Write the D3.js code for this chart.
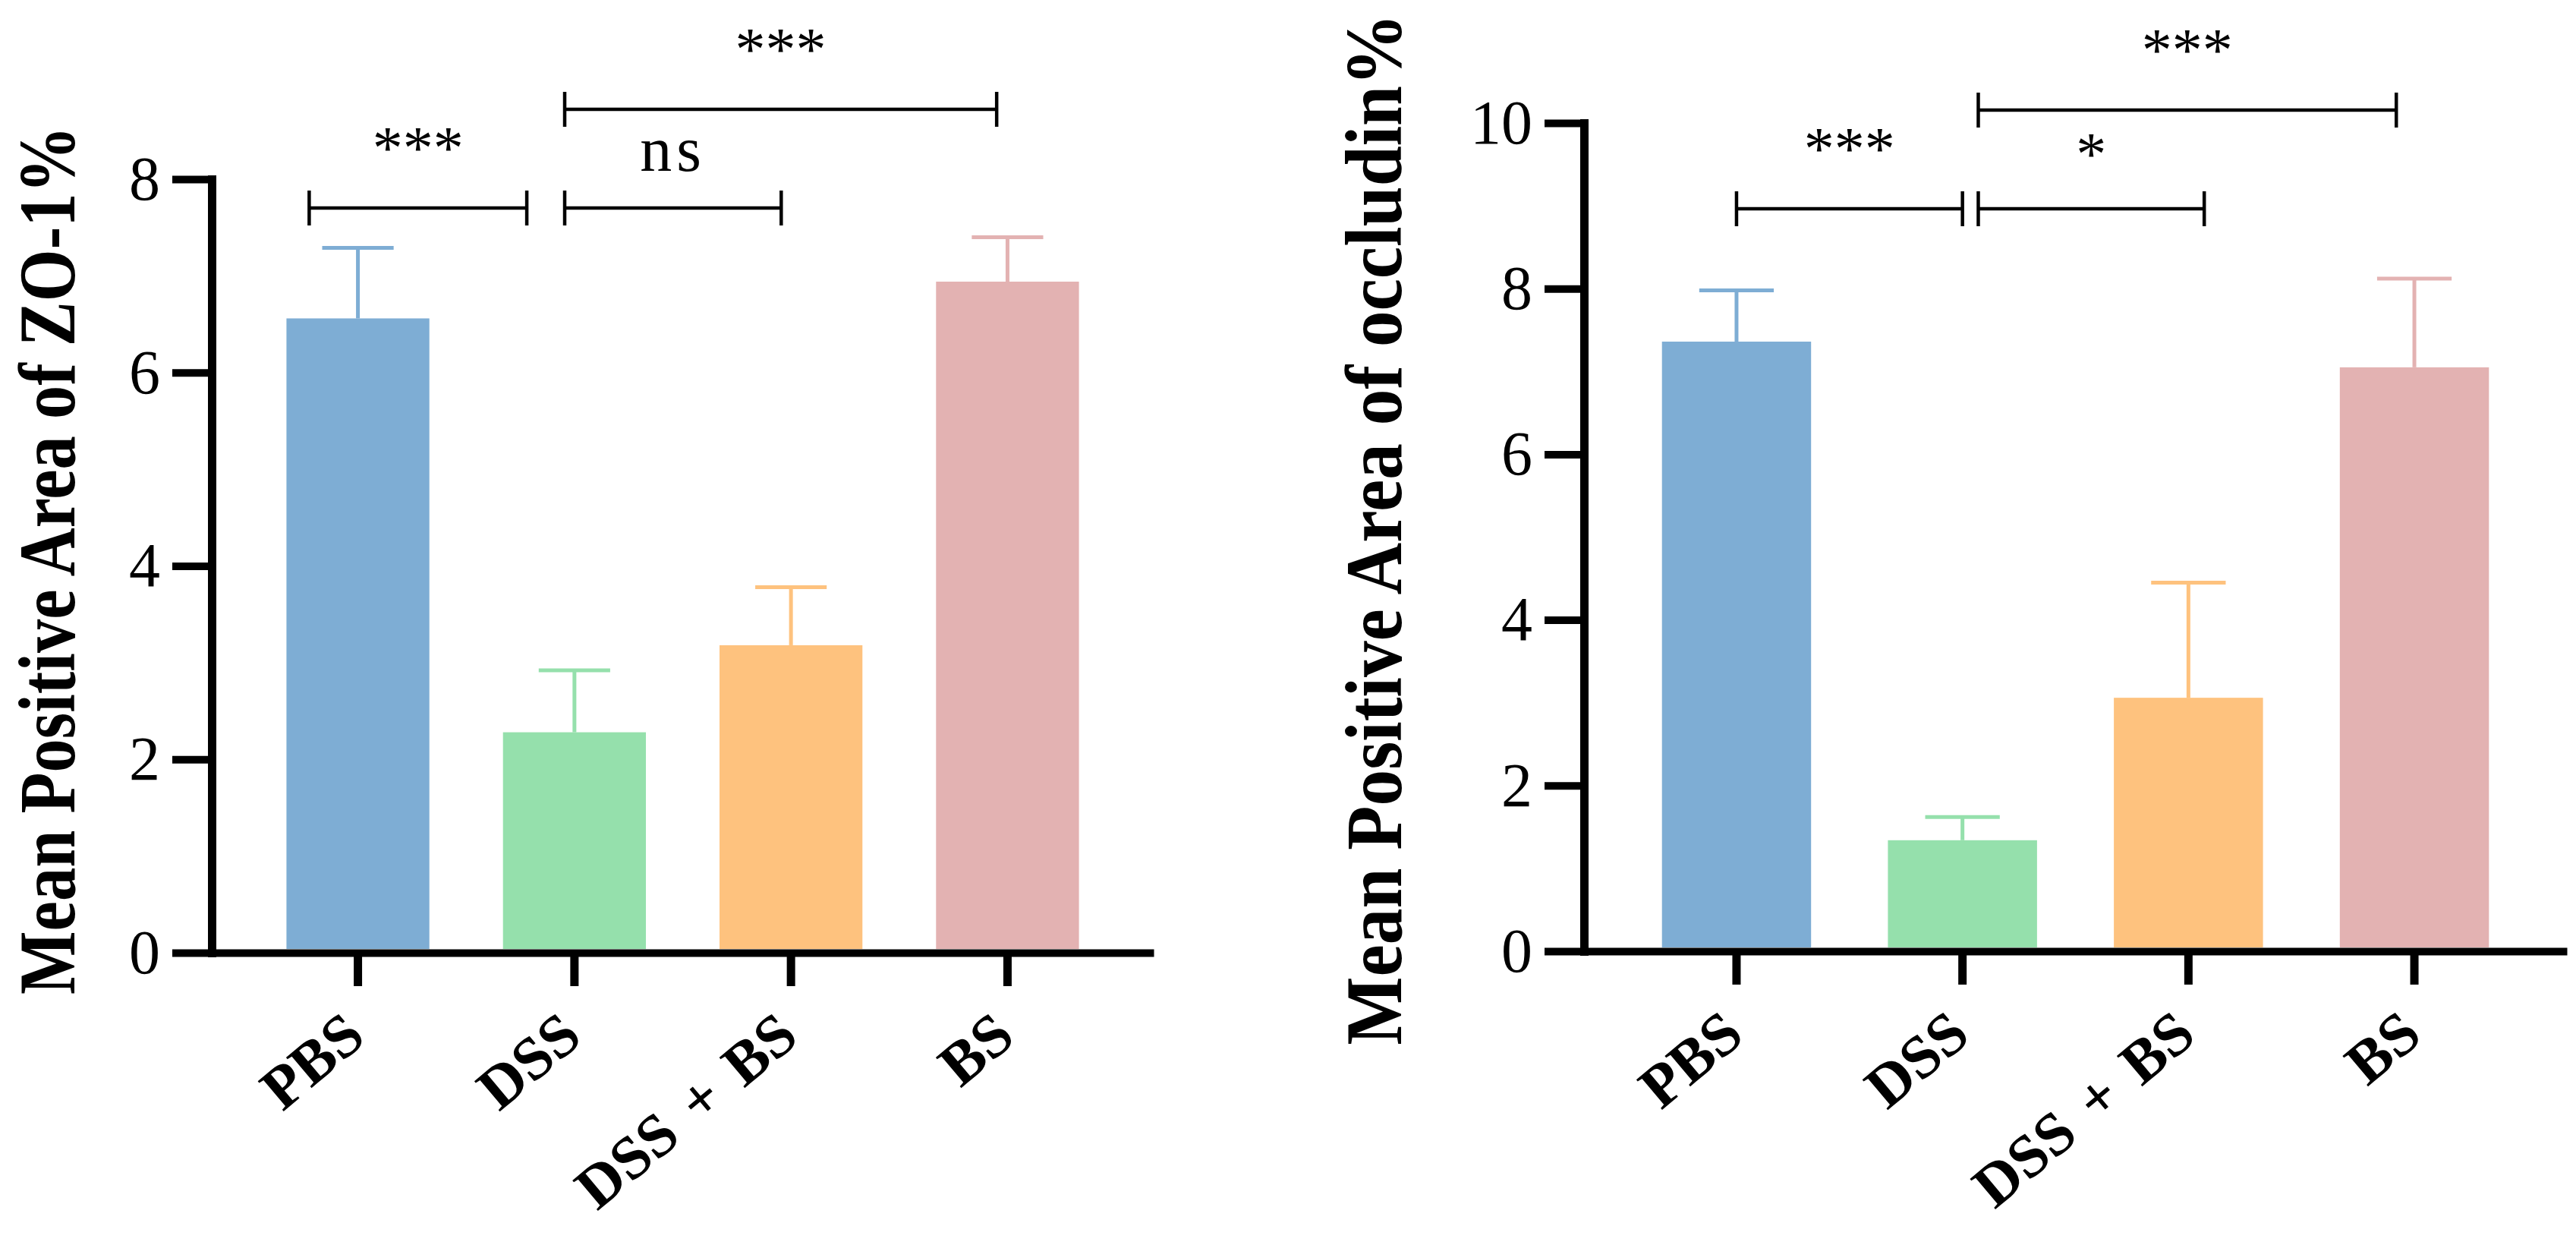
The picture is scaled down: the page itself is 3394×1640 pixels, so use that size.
<!DOCTYPE html>
<html>
<head>
<meta charset="utf-8">
<script src="https://cdn.jsdelivr.net/npm/d3@7"></script>
<style>
  html, body { margin: 0; padding: 0; background: #ffffff; }
  svg { display: block; }
</style>
</head>
<body>
<svg id="chart" width="3394" height="1640"></svg>
<script>
// ---------------- data ----------------
const categories = ["PBS", "DSS", "DSS + BS", "BS"];
const barColors = ["#7eadd4", "#95e0ac", "#fec27e", "#e3b2b2"];

const zoTitle = "Mean Positive Area of ZO-1%";
const zoMeans = [6.56, 2.28, 3.18, 6.94];
const zoErrors = [0.73, 0.64, 0.60, 0.46];
const zoTicks = [0, 2, 4, 6, 8];
const zoComparisons = [
  { from: "PBS", to: "DSS", label: "***", level: 0 },
  { from: "DSS", to: "DSS + BS", label: "ns", level: 0 },
  { from: "DSS", to: "BS", label: "***", level: 1 }
];

const occTitle = "Mean Positive Area of occludin%";
const occMeans = [7.36, 1.34, 3.06, 7.05];
const occErrors = [0.62, 0.28, 1.39, 1.07];
const occTicks = [0, 2, 4, 6, 8, 10];
const occComparisons = [
  { from: "PBS", to: "DSS", label: "***", level: 0 },
  { from: "DSS", to: "DSS + BS", label: "*", level: 0 },
  { from: "DSS", to: "BS", label: "***", level: 1 }
];

// ---------------- layout ----------------
const FONT = "'Liberation Serif', 'Times New Roman', serif";
const panels = [
  {
    title: zoTitle, means: zoMeans, errors: zoErrors, ticks: zoTicks, comps: zoComparisons,
    axisX: 279, axisEnd: 1520, y0: 1255, yTop: 236,
    titleX: 98, titleCenter: 738, titleLen: 1144,
    levelY: [274, 144],
    offsets: [[-0.225, -0.22], [-0.045, -0.045], [-0.045, -0.05]]
  },
  {
    title: occTitle, means: occMeans, errors: occErrors, ticks: occTicks, comps: occComparisons,
    axisX: 2087, axisEnd: 3382, y0: 1253, yTop: 162,
    titleX: 1846, titleCenter: 697, titleLen: 1359,
    levelY: [275, 145],
    offsets: [[0, 0], [0.07, 0.07], [0.07, -0.08]]
  }
];

const svg = d3.select("#chart");
svg.append("rect").attr("width", 3394).attr("height", 1640).attr("fill", "#fff");

panels.forEach(p => {
  const g = svg.append("g");
  const yMax = d3.max(p.ticks);
  const y = d3.scaleLinear().domain([0, yMax]).range([p.y0, p.yTop]);
  const x = d3.scaleBand().domain(categories).range([p.axisX, p.axisEnd])
    .paddingInner(0.34).paddingOuter(0.345);
  const bw = x.bandwidth();
  const step = x.step();
  const cx = c => x(c) + bw / 2;

  // bars
  g.selectAll("rect.bar").data(categories).join("rect")
    .attr("class", "bar")
    .attr("x", d => x(d))
    .attr("width", bw)
    .attr("y", (d, i) => y(p.means[i]))
    .attr("height", (d, i) => (y(0) - 5) - y(p.means[i]))
    .attr("fill", (d, i) => barColors[i]);

  // error bars (upper only)
  const eb = g.selectAll("g.err").data(categories).join("g").attr("class", "err");
  eb.append("line")
    .attr("x1", d => cx(d)).attr("x2", d => cx(d))
    .attr("y1", (d, i) => y(p.means[i]))
    .attr("y2", (d, i) => y(p.means[i] + p.errors[i]))
    .attr("stroke", (d, i) => barColors[i]).attr("stroke-width", 5);
  eb.append("line")
    .attr("x1", d => cx(d) - bw * 0.25).attr("x2", d => cx(d) + bw * 0.25)
    .attr("y1", (d, i) => y(p.means[i] + p.errors[i]))
    .attr("y2", (d, i) => y(p.means[i] + p.errors[i]))
    .attr("stroke", (d, i) => barColors[i]).attr("stroke-width", 5);

  // y axis
  const yAxis = d3.axisLeft(y).tickValues(p.ticks).tickSize(52).tickSizeOuter(0)
    .tickPadding(16).tickFormat(d3.format("d"));
  const ya = g.append("g").attr("transform", `translate(${p.axisX},0)`).call(yAxis);
  ya.select(".domain").attr("stroke", "#000").attr("stroke-width", 11)
    .attr("stroke-linecap", "square");
  ya.selectAll(".tick line").attr("stroke", "#000").attr("stroke-width", 10);
  ya.selectAll(".tick text").attr("font-family", FONT).attr("font-size", 82)
    .attr("fill", "#000");

  // x axis
  const xAxis = d3.axisBottom(x).tickSize(44).tickSizeOuter(0).tickFormat("");
  const xa = g.append("g").attr("transform", `translate(0,${p.y0})`).call(xAxis);
  xa.select(".domain").attr("stroke", "#000").attr("stroke-width", 10);
  xa.selectAll(".tick line").attr("stroke", "#000").attr("stroke-width", 11);

  // x labels, rotated
  g.selectAll("text.xl").data(categories).join("text")
    .attr("class", "xl")
    .attr("transform", d => `translate(${cx(d) + 13},${p.y0 + 116}) rotate(-40)`)
    .attr("text-anchor", "end")
    .attr("font-family", FONT).attr("font-weight", "bold").attr("font-size", 80)
    .attr("word-spacing", 10)
    .attr("fill", "#000")
    .text(d => d);

  // y title: tall, narrow bold serif (scaled to match the original's proportions)
  const t = g.append("text")
    .attr("text-anchor", "middle")
    .attr("font-family", FONT).attr("font-weight", "bold").attr("font-size", 88)
    .attr("fill", "#000")
    .text(p.title);
  const natural = t.node().getComputedTextLength() || p.titleLen;
  const sx = p.titleLen / natural;
  const sy = 1.2;
  t.attr("transform",
    `translate(${p.titleX},${p.titleCenter}) rotate(-90) scale(${sx},${sy})`);

  // significance brackets
  p.comps.forEach((c, k) => {
    const x1 = cx(c.from) + p.offsets[k][0] * step;
    const x2 = cx(c.to) + p.offsets[k][1] * step;
    const by = p.levelY[c.level];
    const bg = g.append("g");
    bg.append("line").attr("x1", x1).attr("x2", x2).attr("y1", by).attr("y2", by)
      .attr("stroke", "#000").attr("stroke-width", 4.5);
    [x1, x2].forEach(xx => bg.append("line")
      .attr("x1", xx).attr("x2", xx).attr("y1", by - 23).attr("y2", by + 23)
      .attr("stroke", "#000").attr("stroke-width", 4.5));
    const isNs = c.label === "ns";
    const dy = isNs ? 49 : (c.label === "*" ? 45 : 52);
    bg.append("text")
      .attr("x", (x1 + x2) / 2).attr("y", by - dy)
      .attr("text-anchor", "middle")
      .attr("font-family", FONT)
      .attr("font-weight", "normal")
      .attr("font-size", isNs ? 84 : 80)
      .attr("letter-spacing", isNs ? 6 : 0)
      .attr("fill", "#000")
      .text(c.label);
  });
});
</script>
</body>
</html>
